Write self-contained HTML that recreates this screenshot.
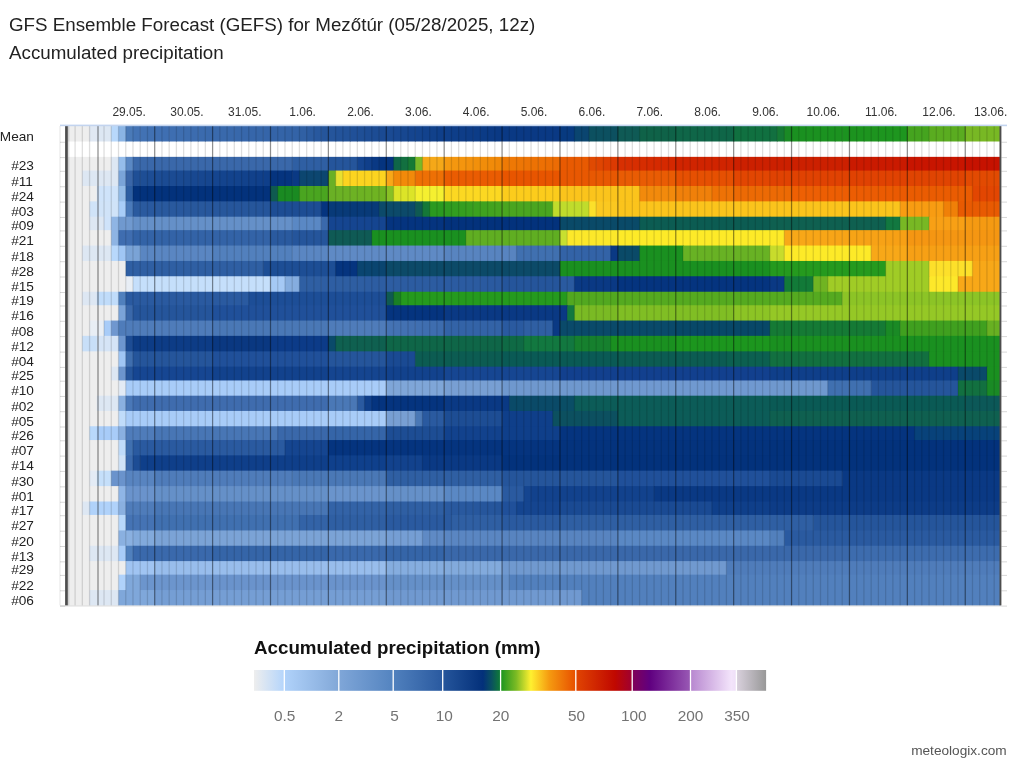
<!DOCTYPE html>
<html lang="en"><head><meta charset="utf-8"><title>GFS Ensemble Forecast (GEFS) for Mezőtúr</title>
<style>html,body{margin:0;padding:0;background:#fff}body{width:1024px;height:764px;position:relative;overflow:hidden;font-family:"Liberation Sans",Arial,sans-serif}text{white-space:pre}</style>
</head><body>
<svg width="1024" height="764" viewBox="0 0 1024 764" style="position:absolute;left:0;top:0">
<g>
<rect x="67.50" y="126.00" width="22.66" height="15.50" fill="#eeeeee"/>
<rect x="89.56" y="126.00" width="7.84" height="15.50" fill="#e0e8f3"/>
<rect x="96.80" y="126.00" width="15.07" height="15.50" fill="#dde7f3"/>
<rect x="111.27" y="126.00" width="7.84" height="15.50" fill="#b8d8fb"/>
<rect x="118.51" y="126.00" width="7.84" height="15.50" fill="#8ab4e4"/>
<rect x="125.75" y="126.00" width="7.84" height="15.50" fill="#4a7ab8"/>
<rect x="132.98" y="126.00" width="7.84" height="15.50" fill="#4373b5"/>
<rect x="140.22" y="126.00" width="7.84" height="15.50" fill="#4272b4"/>
<rect x="147.46" y="126.00" width="7.84" height="15.50" fill="#4171b3"/>
<rect x="154.69" y="126.00" width="7.84" height="15.50" fill="#4070b3"/>
<rect x="161.93" y="126.00" width="7.84" height="15.50" fill="#3f6fb2"/>
<rect x="169.17" y="126.00" width="7.84" height="15.50" fill="#3e6eb1"/>
<rect x="176.41" y="126.00" width="7.84" height="15.50" fill="#3e6eb0"/>
<rect x="183.64" y="126.00" width="7.84" height="15.50" fill="#3d6daf"/>
<rect x="190.88" y="126.00" width="7.84" height="15.50" fill="#3c6caf"/>
<rect x="198.12" y="126.00" width="7.84" height="15.50" fill="#3b6bae"/>
<rect x="205.35" y="126.00" width="15.07" height="15.50" fill="#3a6aad"/>
<rect x="219.83" y="126.00" width="15.07" height="15.50" fill="#3969ac"/>
<rect x="234.30" y="126.00" width="7.84" height="15.50" fill="#3868ab"/>
<rect x="241.54" y="126.00" width="7.84" height="15.50" fill="#3767ab"/>
<rect x="248.78" y="126.00" width="7.84" height="15.50" fill="#3666aa"/>
<rect x="256.01" y="126.00" width="7.84" height="15.50" fill="#3666a9"/>
<rect x="263.25" y="126.00" width="7.84" height="15.50" fill="#3565a9"/>
<rect x="270.49" y="126.00" width="15.07" height="15.50" fill="#3464a8"/>
<rect x="284.96" y="126.00" width="15.07" height="15.50" fill="#3363a7"/>
<rect x="299.43" y="126.00" width="7.84" height="15.50" fill="#3060a4"/>
<rect x="306.67" y="126.00" width="7.84" height="15.50" fill="#2c5ca1"/>
<rect x="313.91" y="126.00" width="7.84" height="15.50" fill="#28589e"/>
<rect x="321.14" y="126.00" width="15.07" height="15.50" fill="#25559b"/>
<rect x="335.62" y="126.00" width="7.84" height="15.50" fill="#23539a"/>
<rect x="342.86" y="126.00" width="7.84" height="15.50" fill="#225299"/>
<rect x="350.09" y="126.00" width="7.84" height="15.50" fill="#205098"/>
<rect x="357.33" y="126.00" width="7.84" height="15.50" fill="#1f4f96"/>
<rect x="364.57" y="126.00" width="7.84" height="15.50" fill="#1d4d95"/>
<rect x="371.80" y="126.00" width="7.84" height="15.50" fill="#1c4c94"/>
<rect x="379.04" y="126.00" width="15.07" height="15.50" fill="#1a4a93"/>
<rect x="393.51" y="126.00" width="7.84" height="15.50" fill="#184892"/>
<rect x="400.75" y="126.00" width="7.84" height="15.50" fill="#174790"/>
<rect x="407.99" y="126.00" width="7.84" height="15.50" fill="#15458f"/>
<rect x="415.23" y="126.00" width="7.84" height="15.50" fill="#14448e"/>
<rect x="422.46" y="126.00" width="7.84" height="15.50" fill="#12428d"/>
<rect x="429.70" y="126.00" width="7.84" height="15.50" fill="#11418b"/>
<rect x="436.94" y="126.00" width="15.07" height="15.50" fill="#0f3f8a"/>
<rect x="451.41" y="126.00" width="7.84" height="15.50" fill="#0e3e89"/>
<rect x="458.65" y="126.00" width="7.84" height="15.50" fill="#0e3d88"/>
<rect x="465.88" y="126.00" width="7.84" height="15.50" fill="#0d3c87"/>
<rect x="473.12" y="126.00" width="7.84" height="15.50" fill="#0c3c87"/>
<rect x="480.36" y="126.00" width="7.84" height="15.50" fill="#0b3b86"/>
<rect x="487.60" y="126.00" width="7.84" height="15.50" fill="#0b3a85"/>
<rect x="494.83" y="126.00" width="65.73" height="15.50" fill="#0a3984"/>
<rect x="559.97" y="126.00" width="15.07" height="15.50" fill="#073a80"/>
<rect x="574.44" y="126.00" width="15.07" height="15.50" fill="#0a4570"/>
<rect x="588.91" y="126.00" width="29.55" height="15.50" fill="#0c5060"/>
<rect x="617.86" y="126.00" width="22.31" height="15.50" fill="#0f5a55"/>
<rect x="639.57" y="126.00" width="36.79" height="15.50" fill="#0f6248"/>
<rect x="675.76" y="126.00" width="58.50" height="15.50" fill="#0f6648"/>
<rect x="733.65" y="126.00" width="36.79" height="15.50" fill="#107040"/>
<rect x="769.84" y="126.00" width="7.84" height="15.50" fill="#127040"/>
<rect x="777.08" y="126.00" width="7.84" height="15.50" fill="#157a35"/>
<rect x="784.31" y="126.00" width="7.84" height="15.50" fill="#1a8a25"/>
<rect x="791.55" y="126.00" width="15.07" height="15.50" fill="#1a9020"/>
<rect x="806.02" y="126.00" width="15.07" height="15.50" fill="#1b9120"/>
<rect x="820.50" y="126.00" width="15.07" height="15.50" fill="#1b9220"/>
<rect x="834.97" y="126.00" width="7.84" height="15.50" fill="#1c9220"/>
<rect x="842.21" y="126.00" width="7.84" height="15.50" fill="#1c9320"/>
<rect x="849.45" y="126.00" width="7.84" height="15.50" fill="#1c931f"/>
<rect x="856.68" y="126.00" width="7.84" height="15.50" fill="#1c941f"/>
<rect x="863.92" y="126.00" width="15.07" height="15.50" fill="#1d941f"/>
<rect x="878.39" y="126.00" width="15.07" height="15.50" fill="#1d951f"/>
<rect x="892.87" y="126.00" width="15.07" height="15.50" fill="#1e961f"/>
<rect x="907.34" y="126.00" width="22.31" height="15.50" fill="#45a41f"/>
<rect x="929.05" y="126.00" width="36.79" height="15.50" fill="#5aac20"/>
<rect x="965.24" y="126.00" width="35.16" height="15.50" fill="#78b824"/>
<rect x="67.50" y="156.85" width="44.37" height="14.70" fill="#eeeeee"/>
<rect x="111.27" y="156.85" width="7.84" height="14.70" fill="#dde7f3"/>
<rect x="118.51" y="156.85" width="7.84" height="14.70" fill="#95bdeb"/>
<rect x="125.75" y="156.85" width="7.84" height="14.70" fill="#5a88c4"/>
<rect x="132.98" y="156.85" width="159.81" height="14.70" fill="#3a68aa"/>
<rect x="292.20" y="156.85" width="36.78" height="14.70" fill="#2f5fa3"/>
<rect x="328.38" y="156.85" width="29.55" height="14.70" fill="#25559b"/>
<rect x="357.33" y="156.85" width="7.84" height="14.70" fill="#154590"/>
<rect x="364.57" y="156.85" width="7.84" height="14.70" fill="#103f8a"/>
<rect x="371.80" y="156.85" width="7.84" height="14.70" fill="#0a3984"/>
<rect x="379.04" y="156.85" width="15.07" height="14.70" fill="#05347f"/>
<rect x="393.51" y="156.85" width="7.84" height="14.70" fill="#0f6648"/>
<rect x="400.75" y="156.85" width="7.84" height="14.70" fill="#127040"/>
<rect x="407.99" y="156.85" width="7.84" height="14.70" fill="#157a35"/>
<rect x="415.23" y="156.85" width="7.84" height="14.70" fill="#7ab828"/>
<rect x="422.46" y="156.85" width="22.31" height="14.70" fill="#f5a818"/>
<rect x="444.17" y="156.85" width="7.84" height="14.70" fill="#f59a10"/>
<rect x="451.41" y="156.85" width="7.84" height="14.70" fill="#f4970f"/>
<rect x="458.65" y="156.85" width="7.84" height="14.70" fill="#f4950e"/>
<rect x="465.88" y="156.85" width="7.84" height="14.70" fill="#f3920d"/>
<rect x="473.12" y="156.85" width="7.84" height="14.70" fill="#f2900b"/>
<rect x="480.36" y="156.85" width="7.84" height="14.70" fill="#f18d0a"/>
<rect x="487.60" y="156.85" width="7.84" height="14.70" fill="#f18b09"/>
<rect x="494.83" y="156.85" width="7.84" height="14.70" fill="#f08808"/>
<rect x="502.07" y="156.85" width="7.84" height="14.70" fill="#ee7a05"/>
<rect x="509.31" y="156.85" width="7.84" height="14.70" fill="#ee7805"/>
<rect x="516.54" y="156.85" width="7.84" height="14.70" fill="#ed7605"/>
<rect x="523.78" y="156.85" width="7.84" height="14.70" fill="#ed7405"/>
<rect x="531.02" y="156.85" width="7.84" height="14.70" fill="#ed7204"/>
<rect x="538.25" y="156.85" width="7.84" height="14.70" fill="#ed7004"/>
<rect x="545.49" y="156.85" width="7.84" height="14.70" fill="#ec6e04"/>
<rect x="552.73" y="156.85" width="7.84" height="14.70" fill="#ec6c04"/>
<rect x="559.97" y="156.85" width="29.55" height="14.70" fill="#e85a02"/>
<rect x="588.91" y="156.85" width="7.84" height="14.70" fill="#e04a02"/>
<rect x="596.15" y="156.85" width="7.84" height="14.70" fill="#df4502"/>
<rect x="603.39" y="156.85" width="7.84" height="14.70" fill="#dd3f02"/>
<rect x="610.62" y="156.85" width="7.84" height="14.70" fill="#dc3a02"/>
<rect x="617.86" y="156.85" width="7.84" height="14.70" fill="#d83002"/>
<rect x="625.10" y="156.85" width="7.84" height="14.70" fill="#d72f02"/>
<rect x="632.34" y="156.85" width="7.84" height="14.70" fill="#d72e01"/>
<rect x="639.57" y="156.85" width="7.84" height="14.70" fill="#d62d01"/>
<rect x="646.81" y="156.85" width="7.84" height="14.70" fill="#d62b01"/>
<rect x="654.05" y="156.85" width="7.84" height="14.70" fill="#d52a01"/>
<rect x="661.28" y="156.85" width="7.84" height="14.70" fill="#d52900"/>
<rect x="668.52" y="156.85" width="7.84" height="14.70" fill="#d42800"/>
<rect x="675.76" y="156.85" width="58.50" height="14.70" fill="#d02400"/>
<rect x="733.65" y="156.85" width="116.39" height="14.70" fill="#cc2000"/>
<rect x="849.45" y="156.85" width="58.50" height="14.70" fill="#ca1a00"/>
<rect x="907.34" y="156.85" width="58.50" height="14.70" fill="#c81500"/>
<rect x="965.24" y="156.85" width="35.16" height="14.70" fill="#c61200"/>
<rect x="67.50" y="170.55" width="15.42" height="16.45" fill="#eeeeee"/>
<rect x="82.32" y="170.55" width="36.78" height="16.45" fill="#dde7f3"/>
<rect x="118.51" y="170.55" width="7.84" height="16.45" fill="#7aa4d8"/>
<rect x="125.75" y="170.55" width="7.84" height="16.45" fill="#3a66a8"/>
<rect x="132.98" y="170.55" width="7.84" height="16.45" fill="#1f4f96"/>
<rect x="140.22" y="170.55" width="7.84" height="16.45" fill="#1e4e95"/>
<rect x="147.46" y="170.55" width="7.84" height="16.45" fill="#1d4d95"/>
<rect x="154.69" y="170.55" width="7.84" height="16.45" fill="#1c4c94"/>
<rect x="161.93" y="170.55" width="15.07" height="16.45" fill="#1b4b93"/>
<rect x="176.41" y="170.55" width="7.84" height="16.45" fill="#1a4a92"/>
<rect x="183.64" y="170.55" width="7.84" height="16.45" fill="#194991"/>
<rect x="190.88" y="170.55" width="7.84" height="16.45" fill="#184891"/>
<rect x="198.12" y="170.55" width="7.84" height="16.45" fill="#174790"/>
<rect x="205.35" y="170.55" width="7.84" height="16.45" fill="#16468f"/>
<rect x="212.59" y="170.55" width="7.84" height="16.45" fill="#15458f"/>
<rect x="219.83" y="170.55" width="7.84" height="16.45" fill="#14448e"/>
<rect x="227.06" y="170.55" width="15.07" height="16.45" fill="#13438d"/>
<rect x="241.54" y="170.55" width="7.84" height="16.45" fill="#12428c"/>
<rect x="248.78" y="170.55" width="7.84" height="16.45" fill="#11418b"/>
<rect x="256.01" y="170.55" width="7.84" height="16.45" fill="#10408b"/>
<rect x="263.25" y="170.55" width="7.84" height="16.45" fill="#0f3f8a"/>
<rect x="270.49" y="170.55" width="22.31" height="16.45" fill="#05347f"/>
<rect x="292.20" y="170.55" width="7.84" height="16.45" fill="#0a3984"/>
<rect x="299.43" y="170.55" width="29.55" height="16.45" fill="#0c4670"/>
<rect x="328.38" y="170.55" width="7.84" height="16.45" fill="#6ab025"/>
<rect x="335.62" y="170.55" width="7.84" height="16.45" fill="#e8e030"/>
<rect x="342.86" y="170.55" width="44.02" height="16.45" fill="#fcd420"/>
<rect x="386.28" y="170.55" width="7.84" height="16.45" fill="#f8a818"/>
<rect x="393.51" y="170.55" width="22.31" height="16.45" fill="#f28a0a"/>
<rect x="415.23" y="170.55" width="29.55" height="16.45" fill="#ee7005"/>
<rect x="444.17" y="170.55" width="58.50" height="16.45" fill="#ea5c02"/>
<rect x="502.07" y="170.55" width="58.50" height="16.45" fill="#e85500"/>
<rect x="559.97" y="170.55" width="58.50" height="16.45" fill="#e85802"/>
<rect x="617.86" y="170.55" width="58.50" height="16.45" fill="#e95c04"/>
<rect x="675.76" y="170.55" width="58.50" height="16.45" fill="#e65002"/>
<rect x="733.65" y="170.55" width="36.79" height="16.45" fill="#e24602"/>
<rect x="769.84" y="170.55" width="138.10" height="16.45" fill="#e04202"/>
<rect x="907.34" y="170.55" width="58.50" height="16.45" fill="#e04402"/>
<rect x="965.24" y="170.55" width="35.16" height="16.45" fill="#e24a02"/>
<rect x="67.50" y="186.00" width="29.90" height="16.35" fill="#eeeeee"/>
<rect x="96.80" y="186.00" width="22.31" height="16.35" fill="#cfe3fa"/>
<rect x="118.51" y="186.00" width="7.84" height="16.35" fill="#94bce8"/>
<rect x="125.75" y="186.00" width="7.84" height="16.35" fill="#2d5ea2"/>
<rect x="132.98" y="186.00" width="138.10" height="16.35" fill="#03327c"/>
<rect x="270.49" y="186.00" width="7.84" height="16.35" fill="#0f5a50"/>
<rect x="277.72" y="186.00" width="22.31" height="16.35" fill="#1a8a22"/>
<rect x="299.43" y="186.00" width="29.55" height="16.35" fill="#4aa520"/>
<rect x="328.38" y="186.00" width="7.84" height="16.35" fill="#6ab025"/>
<rect x="335.62" y="186.00" width="7.84" height="16.35" fill="#6bb125"/>
<rect x="342.86" y="186.00" width="7.84" height="16.35" fill="#6cb124"/>
<rect x="350.09" y="186.00" width="7.84" height="16.35" fill="#6db224"/>
<rect x="357.33" y="186.00" width="7.84" height="16.35" fill="#6db223"/>
<rect x="364.57" y="186.00" width="7.84" height="16.35" fill="#6eb323"/>
<rect x="371.80" y="186.00" width="7.84" height="16.35" fill="#6fb322"/>
<rect x="379.04" y="186.00" width="7.84" height="16.35" fill="#70b422"/>
<rect x="386.28" y="186.00" width="7.84" height="16.35" fill="#88c025"/>
<rect x="393.51" y="186.00" width="22.31" height="16.35" fill="#dce428"/>
<rect x="415.23" y="186.00" width="29.55" height="16.35" fill="#f5f030"/>
<rect x="444.17" y="186.00" width="58.50" height="16.35" fill="#fcd822"/>
<rect x="502.07" y="186.00" width="58.50" height="16.35" fill="#fccc1c"/>
<rect x="559.97" y="186.00" width="80.21" height="16.35" fill="#fbc41c"/>
<rect x="639.57" y="186.00" width="36.79" height="16.35" fill="#f28a0c"/>
<rect x="675.76" y="186.00" width="36.78" height="16.35" fill="#f0800a"/>
<rect x="711.94" y="186.00" width="22.31" height="16.35" fill="#ee7206"/>
<rect x="733.65" y="186.00" width="58.50" height="16.35" fill="#ec6a05"/>
<rect x="791.55" y="186.00" width="15.07" height="16.35" fill="#ee6004"/>
<rect x="806.02" y="186.00" width="15.07" height="16.35" fill="#ed5f04"/>
<rect x="820.50" y="186.00" width="15.07" height="16.35" fill="#ed5e03"/>
<rect x="834.97" y="186.00" width="7.84" height="16.35" fill="#ec5e03"/>
<rect x="842.21" y="186.00" width="15.07" height="16.35" fill="#ec5d03"/>
<rect x="856.68" y="186.00" width="7.84" height="16.35" fill="#ec5c03"/>
<rect x="863.92" y="186.00" width="15.07" height="16.35" fill="#eb5c03"/>
<rect x="878.39" y="186.00" width="15.07" height="16.35" fill="#eb5b02"/>
<rect x="892.87" y="186.00" width="15.07" height="16.35" fill="#ea5a02"/>
<rect x="907.34" y="186.00" width="65.73" height="16.35" fill="#ea5c02"/>
<rect x="972.48" y="186.00" width="27.92" height="16.35" fill="#e24602"/>
<rect x="67.50" y="201.35" width="22.66" height="16.35" fill="#eeeeee"/>
<rect x="89.56" y="201.35" width="29.55" height="16.35" fill="#d0e3f8"/>
<rect x="118.51" y="201.35" width="7.84" height="16.35" fill="#a8cdf8"/>
<rect x="125.75" y="201.35" width="7.84" height="16.35" fill="#4a7aba"/>
<rect x="132.98" y="201.35" width="15.07" height="16.35" fill="#2a5a9f"/>
<rect x="147.46" y="201.35" width="7.84" height="16.35" fill="#29599f"/>
<rect x="154.69" y="201.35" width="22.31" height="16.35" fill="#29599e"/>
<rect x="176.41" y="201.35" width="7.84" height="16.35" fill="#28589e"/>
<rect x="183.64" y="201.35" width="22.31" height="16.35" fill="#28589d"/>
<rect x="205.35" y="201.35" width="15.07" height="16.35" fill="#27579d"/>
<rect x="219.83" y="201.35" width="7.84" height="16.35" fill="#27579c"/>
<rect x="227.06" y="201.35" width="22.31" height="16.35" fill="#26569c"/>
<rect x="248.78" y="201.35" width="7.84" height="16.35" fill="#26569b"/>
<rect x="256.01" y="201.35" width="15.07" height="16.35" fill="#25559b"/>
<rect x="270.49" y="201.35" width="51.26" height="16.35" fill="#1d4d94"/>
<rect x="321.14" y="201.35" width="7.84" height="16.35" fill="#05347f"/>
<rect x="328.38" y="201.35" width="51.26" height="16.35" fill="#083a78"/>
<rect x="379.04" y="201.35" width="36.78" height="16.35" fill="#0c4a6a"/>
<rect x="415.23" y="201.35" width="7.84" height="16.35" fill="#0f5a52"/>
<rect x="422.46" y="201.35" width="7.84" height="16.35" fill="#157838"/>
<rect x="429.70" y="201.35" width="15.07" height="16.35" fill="#2a9a20"/>
<rect x="444.17" y="201.35" width="7.84" height="16.35" fill="#2f9c20"/>
<rect x="451.41" y="201.35" width="7.84" height="16.35" fill="#329d20"/>
<rect x="458.65" y="201.35" width="7.84" height="16.35" fill="#359e20"/>
<rect x="465.88" y="201.35" width="7.84" height="16.35" fill="#389f20"/>
<rect x="473.12" y="201.35" width="7.84" height="16.35" fill="#3ca11f"/>
<rect x="480.36" y="201.35" width="7.84" height="16.35" fill="#3fa21f"/>
<rect x="487.60" y="201.35" width="7.84" height="16.35" fill="#42a31f"/>
<rect x="494.83" y="201.35" width="7.84" height="16.35" fill="#45a41f"/>
<rect x="502.07" y="201.35" width="51.26" height="16.35" fill="#4aa520"/>
<rect x="552.73" y="201.35" width="36.78" height="16.35" fill="#c0dc2c"/>
<rect x="588.91" y="201.35" width="7.84" height="16.35" fill="#fce02a"/>
<rect x="596.15" y="201.35" width="22.31" height="16.35" fill="#fbc820"/>
<rect x="617.86" y="201.35" width="282.84" height="16.35" fill="#fbc41c"/>
<rect x="900.11" y="201.35" width="44.02" height="16.35" fill="#f89c12"/>
<rect x="943.53" y="201.35" width="15.07" height="16.35" fill="#f08008"/>
<rect x="958.00" y="201.35" width="42.40" height="16.35" fill="#e85a02"/>
<rect x="67.50" y="216.70" width="22.66" height="14.45" fill="#eeeeee"/>
<rect x="89.56" y="216.70" width="15.07" height="14.45" fill="#dde7f3"/>
<rect x="104.03" y="216.70" width="7.84" height="14.45" fill="#cfe3fa"/>
<rect x="111.27" y="216.70" width="7.84" height="14.45" fill="#8fb5e4"/>
<rect x="118.51" y="216.70" width="15.07" height="14.45" fill="#7099cf"/>
<rect x="132.98" y="216.70" width="159.81" height="14.45" fill="#6590c8"/>
<rect x="292.20" y="216.70" width="29.55" height="14.45" fill="#5a88c4"/>
<rect x="321.14" y="216.70" width="7.84" height="14.45" fill="#3a69ac"/>
<rect x="328.38" y="216.70" width="58.50" height="14.45" fill="#154590"/>
<rect x="386.28" y="216.70" width="58.50" height="14.45" fill="#05347f"/>
<rect x="444.17" y="216.70" width="116.39" height="14.45" fill="#03327c"/>
<rect x="559.97" y="216.70" width="80.21" height="14.45" fill="#0a4a68"/>
<rect x="639.57" y="216.70" width="130.87" height="14.45" fill="#0c5c52"/>
<rect x="769.84" y="216.70" width="116.39" height="14.45" fill="#0f6050"/>
<rect x="885.63" y="216.70" width="15.07" height="14.45" fill="#127840"/>
<rect x="900.11" y="216.70" width="29.55" height="14.45" fill="#78b824"/>
<rect x="929.05" y="216.70" width="36.79" height="14.45" fill="#f8a015"/>
<rect x="965.24" y="216.70" width="35.16" height="14.45" fill="#f59a12"/>
<rect x="67.50" y="230.15" width="44.37" height="16.40" fill="#eeeeee"/>
<rect x="111.27" y="230.15" width="7.84" height="16.40" fill="#8eb4e3"/>
<rect x="118.51" y="230.15" width="15.07" height="16.40" fill="#3f6db0"/>
<rect x="132.98" y="230.15" width="138.10" height="16.40" fill="#3363a7"/>
<rect x="270.49" y="230.15" width="22.31" height="16.40" fill="#2a5a9f"/>
<rect x="292.20" y="230.15" width="36.78" height="16.40" fill="#25559b"/>
<rect x="328.38" y="230.15" width="44.02" height="16.40" fill="#0f5a55"/>
<rect x="371.80" y="230.15" width="94.68" height="16.40" fill="#1a9020"/>
<rect x="465.88" y="230.15" width="94.68" height="16.40" fill="#60ae22"/>
<rect x="559.97" y="230.15" width="7.84" height="16.40" fill="#c8e030"/>
<rect x="567.20" y="230.15" width="51.26" height="16.40" fill="#fce82a"/>
<rect x="617.86" y="230.15" width="167.05" height="16.40" fill="#fdea28"/>
<rect x="784.31" y="230.15" width="15.07" height="16.40" fill="#f8a818"/>
<rect x="798.79" y="230.15" width="7.84" height="16.40" fill="#f8a718"/>
<rect x="806.02" y="230.15" width="22.31" height="16.40" fill="#f8a617"/>
<rect x="827.74" y="230.15" width="7.84" height="16.40" fill="#f8a517"/>
<rect x="834.97" y="230.15" width="7.84" height="16.40" fill="#f8a417"/>
<rect x="842.21" y="230.15" width="7.84" height="16.40" fill="#f8a416"/>
<rect x="849.45" y="230.15" width="7.84" height="16.40" fill="#f7a416"/>
<rect x="856.68" y="230.15" width="7.84" height="16.40" fill="#f7a316"/>
<rect x="863.92" y="230.15" width="22.31" height="16.40" fill="#f7a216"/>
<rect x="885.63" y="230.15" width="7.84" height="16.40" fill="#f7a115"/>
<rect x="892.87" y="230.15" width="15.07" height="16.40" fill="#f7a015"/>
<rect x="907.34" y="230.15" width="93.06" height="16.40" fill="#f59612"/>
<rect x="67.50" y="245.55" width="15.42" height="16.40" fill="#eeeeee"/>
<rect x="82.32" y="245.55" width="29.55" height="16.40" fill="#dde7f3"/>
<rect x="111.27" y="245.55" width="7.84" height="16.40" fill="#b8d8fb"/>
<rect x="118.51" y="245.55" width="7.84" height="16.40" fill="#a0c6f4"/>
<rect x="125.75" y="245.55" width="15.07" height="16.40" fill="#7aa3d6"/>
<rect x="140.22" y="245.55" width="72.97" height="16.40" fill="#5a86c2"/>
<rect x="212.59" y="245.55" width="80.21" height="16.40" fill="#5280bd"/>
<rect x="292.20" y="245.55" width="36.78" height="16.40" fill="#5a86c2"/>
<rect x="328.38" y="245.55" width="116.39" height="16.40" fill="#5f8ac5"/>
<rect x="444.17" y="245.55" width="72.97" height="16.40" fill="#5884c0"/>
<rect x="516.54" y="245.55" width="44.02" height="16.40" fill="#4070b0"/>
<rect x="559.97" y="245.55" width="51.26" height="16.40" fill="#3363a7"/>
<rect x="610.62" y="245.55" width="7.84" height="16.40" fill="#0a3984"/>
<rect x="617.86" y="245.55" width="22.31" height="16.40" fill="#0a4a68"/>
<rect x="639.57" y="245.55" width="44.02" height="16.40" fill="#1a9020"/>
<rect x="683.00" y="245.55" width="87.44" height="16.40" fill="#68b224"/>
<rect x="769.84" y="245.55" width="15.07" height="16.40" fill="#c8dc2c"/>
<rect x="784.31" y="245.55" width="87.44" height="16.40" fill="#fdea28"/>
<rect x="871.16" y="245.55" width="36.78" height="16.40" fill="#f8a818"/>
<rect x="907.34" y="245.55" width="93.06" height="16.40" fill="#f7a015"/>
<rect x="67.50" y="260.95" width="58.85" height="16.30" fill="#eeeeee"/>
<rect x="125.75" y="260.95" width="138.10" height="16.30" fill="#2f5fa3"/>
<rect x="263.25" y="260.95" width="72.97" height="16.30" fill="#1d4e95"/>
<rect x="335.62" y="260.95" width="22.31" height="16.30" fill="#05347f"/>
<rect x="357.33" y="260.95" width="29.55" height="16.30" fill="#0a4570"/>
<rect x="386.28" y="260.95" width="174.29" height="16.30" fill="#0c4a68"/>
<rect x="559.97" y="260.95" width="210.47" height="16.30" fill="#1a9020"/>
<rect x="769.84" y="260.95" width="116.39" height="16.30" fill="#259a1e"/>
<rect x="885.63" y="260.95" width="44.02" height="16.30" fill="#a0cc26"/>
<rect x="929.05" y="260.95" width="44.02" height="16.30" fill="#fde02a"/>
<rect x="972.48" y="260.95" width="27.92" height="16.30" fill="#f8a818"/>
<rect x="67.50" y="276.25" width="58.85" height="16.50" fill="#eeeeee"/>
<rect x="125.75" y="276.25" width="7.84" height="16.50" fill="#e8eef5"/>
<rect x="132.98" y="276.25" width="138.10" height="16.50" fill="#c5dffb"/>
<rect x="270.49" y="276.25" width="15.07" height="16.50" fill="#a5c9f5"/>
<rect x="284.96" y="276.25" width="15.07" height="16.50" fill="#85addf"/>
<rect x="299.43" y="276.25" width="22.31" height="16.50" fill="#2f5fa3"/>
<rect x="321.14" y="276.25" width="15.07" height="16.50" fill="#2e5ea3"/>
<rect x="335.62" y="276.25" width="29.55" height="16.50" fill="#2e5ea2"/>
<rect x="364.57" y="276.25" width="36.78" height="16.50" fill="#2d5da2"/>
<rect x="400.75" y="276.25" width="36.79" height="16.50" fill="#2c5ca1"/>
<rect x="436.94" y="276.25" width="29.55" height="16.50" fill="#2b5ba1"/>
<rect x="465.88" y="276.25" width="15.07" height="16.50" fill="#2b5ba0"/>
<rect x="480.36" y="276.25" width="22.31" height="16.50" fill="#2a5aa0"/>
<rect x="502.07" y="276.25" width="58.50" height="16.50" fill="#25559b"/>
<rect x="559.97" y="276.25" width="15.07" height="16.50" fill="#2a5aa0"/>
<rect x="574.44" y="276.25" width="44.02" height="16.50" fill="#0a3984"/>
<rect x="617.86" y="276.25" width="152.58" height="16.50" fill="#05347f"/>
<rect x="769.84" y="276.25" width="15.07" height="16.50" fill="#0a3984"/>
<rect x="784.31" y="276.25" width="29.55" height="16.50" fill="#127a38"/>
<rect x="813.26" y="276.25" width="15.07" height="16.50" fill="#70b422"/>
<rect x="827.74" y="276.25" width="101.92" height="16.50" fill="#a0cc26"/>
<rect x="929.05" y="276.25" width="29.55" height="16.50" fill="#fde82a"/>
<rect x="958.00" y="276.25" width="42.40" height="16.50" fill="#f8a818"/>
<rect x="67.50" y="291.75" width="15.42" height="14.50" fill="#eeeeee"/>
<rect x="82.32" y="291.75" width="15.07" height="14.50" fill="#dde7f3"/>
<rect x="96.80" y="291.75" width="22.31" height="14.50" fill="#c0dcfa"/>
<rect x="118.51" y="291.75" width="7.84" height="14.50" fill="#5080bd"/>
<rect x="125.75" y="291.75" width="123.63" height="14.50" fill="#2a5aa0"/>
<rect x="248.78" y="291.75" width="138.10" height="14.50" fill="#1d4e97"/>
<rect x="386.28" y="291.75" width="7.84" height="14.50" fill="#0f5a52"/>
<rect x="393.51" y="291.75" width="7.84" height="14.50" fill="#1a8025"/>
<rect x="400.75" y="291.75" width="167.05" height="14.50" fill="#259a1e"/>
<rect x="567.20" y="291.75" width="51.26" height="14.50" fill="#52a820"/>
<rect x="617.86" y="291.75" width="224.95" height="14.50" fill="#55aa20"/>
<rect x="842.21" y="291.75" width="158.19" height="14.50" fill="#8cc426"/>
<rect x="67.50" y="305.25" width="51.61" height="16.30" fill="#eeeeee"/>
<rect x="118.51" y="305.25" width="7.84" height="16.30" fill="#7aa3d8"/>
<rect x="125.75" y="305.25" width="7.84" height="16.30" fill="#3a68aa"/>
<rect x="132.98" y="305.25" width="80.21" height="16.30" fill="#25559b"/>
<rect x="212.59" y="305.25" width="174.29" height="16.30" fill="#20509a"/>
<rect x="386.28" y="305.25" width="58.50" height="16.30" fill="#05347f"/>
<rect x="444.17" y="305.25" width="123.63" height="16.30" fill="#0a3984"/>
<rect x="567.20" y="305.25" width="7.84" height="16.30" fill="#127840"/>
<rect x="574.44" y="305.25" width="44.02" height="16.30" fill="#7aba24"/>
<rect x="617.86" y="305.25" width="116.39" height="16.30" fill="#80be24"/>
<rect x="733.65" y="305.25" width="36.79" height="16.30" fill="#8cc425"/>
<rect x="769.84" y="305.25" width="230.56" height="16.30" fill="#95c826"/>
<rect x="67.50" y="320.55" width="22.66" height="16.30" fill="#eeeeee"/>
<rect x="89.56" y="320.55" width="15.07" height="16.30" fill="#e8eef5"/>
<rect x="104.03" y="320.55" width="7.84" height="16.30" fill="#a8ccf8"/>
<rect x="111.27" y="320.55" width="7.84" height="16.30" fill="#6f97cf"/>
<rect x="118.51" y="320.55" width="94.68" height="16.30" fill="#4f7cba"/>
<rect x="212.59" y="320.55" width="116.39" height="16.30" fill="#4a78b6"/>
<rect x="328.38" y="320.55" width="58.50" height="16.30" fill="#4f7cba"/>
<rect x="386.28" y="320.55" width="7.84" height="16.30" fill="#4573b4"/>
<rect x="393.51" y="320.55" width="7.84" height="16.30" fill="#4472b3"/>
<rect x="400.75" y="320.55" width="7.84" height="16.30" fill="#4371b2"/>
<rect x="407.99" y="320.55" width="7.84" height="16.30" fill="#4270b1"/>
<rect x="415.23" y="320.55" width="7.84" height="16.30" fill="#406fb1"/>
<rect x="422.46" y="320.55" width="7.84" height="16.30" fill="#3f6eb0"/>
<rect x="429.70" y="320.55" width="7.84" height="16.30" fill="#3e6daf"/>
<rect x="436.94" y="320.55" width="7.84" height="16.30" fill="#3d6cae"/>
<rect x="444.17" y="320.55" width="58.50" height="16.30" fill="#3363a7"/>
<rect x="502.07" y="320.55" width="22.31" height="16.30" fill="#2a5aa0"/>
<rect x="523.78" y="320.55" width="29.55" height="16.30" fill="#2f5fa3"/>
<rect x="552.73" y="320.55" width="7.84" height="16.30" fill="#0a3984"/>
<rect x="559.97" y="320.55" width="116.39" height="16.30" fill="#0a4a6a"/>
<rect x="675.76" y="320.55" width="94.68" height="16.30" fill="#084868"/>
<rect x="769.84" y="320.55" width="116.39" height="16.30" fill="#157a35"/>
<rect x="885.63" y="320.55" width="15.07" height="16.30" fill="#1a8a25"/>
<rect x="900.11" y="320.55" width="87.44" height="16.30" fill="#40a01f"/>
<rect x="986.95" y="320.55" width="13.45" height="16.30" fill="#68b022"/>
<rect x="67.50" y="335.85" width="15.42" height="16.50" fill="#eeeeee"/>
<rect x="82.32" y="335.85" width="15.07" height="16.50" fill="#c8dff8"/>
<rect x="96.80" y="335.85" width="22.31" height="16.50" fill="#d5e4f6"/>
<rect x="118.51" y="335.85" width="7.84" height="16.50" fill="#6d96cf"/>
<rect x="125.75" y="335.85" width="7.84" height="16.50" fill="#1d4c94"/>
<rect x="132.98" y="335.85" width="80.21" height="16.50" fill="#0d3c86"/>
<rect x="212.59" y="335.85" width="58.50" height="16.50" fill="#0a3881"/>
<rect x="270.49" y="335.85" width="58.50" height="16.50" fill="#0c3b88"/>
<rect x="328.38" y="335.85" width="7.84" height="16.50" fill="#0a4a6a"/>
<rect x="335.62" y="335.85" width="51.26" height="16.50" fill="#0f6050"/>
<rect x="386.28" y="335.85" width="116.39" height="16.50" fill="#0f6648"/>
<rect x="502.07" y="335.85" width="22.31" height="16.50" fill="#0f6a45"/>
<rect x="523.78" y="335.85" width="51.26" height="16.50" fill="#127840"/>
<rect x="574.44" y="335.85" width="36.78" height="16.50" fill="#16802e"/>
<rect x="610.62" y="335.85" width="65.73" height="16.50" fill="#1a9020"/>
<rect x="675.76" y="335.85" width="94.68" height="16.50" fill="#1c961e"/>
<rect x="769.84" y="335.85" width="230.56" height="16.50" fill="#1a9020"/>
<rect x="67.50" y="351.35" width="51.61" height="16.30" fill="#eeeeee"/>
<rect x="118.51" y="351.35" width="7.84" height="16.30" fill="#a0c6f4"/>
<rect x="125.75" y="351.35" width="7.84" height="16.30" fill="#3f6eae"/>
<rect x="132.98" y="351.35" width="80.21" height="16.30" fill="#25559b"/>
<rect x="212.59" y="351.35" width="116.39" height="16.30" fill="#20509a"/>
<rect x="328.38" y="351.35" width="58.50" height="16.30" fill="#25559b"/>
<rect x="386.28" y="351.35" width="29.55" height="16.30" fill="#1a4a93"/>
<rect x="415.23" y="351.35" width="87.44" height="16.30" fill="#0c5c52"/>
<rect x="502.07" y="351.35" width="116.39" height="16.30" fill="#0a5a55"/>
<rect x="617.86" y="351.35" width="109.15" height="16.30" fill="#0c5c52"/>
<rect x="726.42" y="351.35" width="44.02" height="16.30" fill="#0c6050"/>
<rect x="769.84" y="351.35" width="159.81" height="16.30" fill="#127040"/>
<rect x="929.05" y="351.35" width="71.35" height="16.30" fill="#1a9020"/>
<rect x="67.50" y="366.65" width="44.37" height="14.80" fill="#eeeeee"/>
<rect x="111.27" y="366.65" width="7.84" height="14.80" fill="#dde7f3"/>
<rect x="118.51" y="366.65" width="7.84" height="14.80" fill="#6c95cd"/>
<rect x="125.75" y="366.65" width="7.84" height="14.80" fill="#25559b"/>
<rect x="132.98" y="366.65" width="80.21" height="14.80" fill="#164692"/>
<rect x="212.59" y="366.65" width="116.39" height="14.80" fill="#12428d"/>
<rect x="328.38" y="366.65" width="58.50" height="14.80" fill="#154590"/>
<rect x="386.28" y="366.65" width="58.50" height="14.80" fill="#12428d"/>
<rect x="444.17" y="366.65" width="116.39" height="14.80" fill="#164692"/>
<rect x="559.97" y="366.65" width="210.47" height="14.80" fill="#12408e"/>
<rect x="769.84" y="366.65" width="188.76" height="14.80" fill="#0f3f8a"/>
<rect x="958.00" y="366.65" width="29.55" height="14.80" fill="#0a4a6a"/>
<rect x="986.95" y="366.65" width="13.45" height="14.80" fill="#1a9020"/>
<rect x="67.50" y="380.45" width="51.61" height="16.25" fill="#eeeeee"/>
<rect x="118.51" y="380.45" width="7.84" height="16.25" fill="#e3ebf5"/>
<rect x="125.75" y="380.45" width="261.13" height="16.25" fill="#a8ccf8"/>
<rect x="386.28" y="380.45" width="58.50" height="16.25" fill="#7fa6d8"/>
<rect x="444.17" y="380.45" width="58.50" height="16.25" fill="#789fd3"/>
<rect x="502.07" y="380.45" width="116.39" height="16.25" fill="#6f98ce"/>
<rect x="617.86" y="380.45" width="152.58" height="16.25" fill="#7099d0"/>
<rect x="769.84" y="380.45" width="58.50" height="16.25" fill="#6f98ce"/>
<rect x="827.74" y="380.45" width="44.02" height="16.25" fill="#4070b0"/>
<rect x="871.16" y="380.45" width="87.44" height="16.25" fill="#25559b"/>
<rect x="958.00" y="380.45" width="29.55" height="16.25" fill="#127040"/>
<rect x="986.95" y="380.45" width="13.45" height="16.25" fill="#1a8a25"/>
<rect x="67.50" y="395.70" width="29.90" height="16.25" fill="#eeeeee"/>
<rect x="96.80" y="395.70" width="22.31" height="16.25" fill="#dde7f3"/>
<rect x="118.51" y="395.70" width="7.84" height="16.25" fill="#8ab0e0"/>
<rect x="125.75" y="395.70" width="7.84" height="16.25" fill="#4a78b8"/>
<rect x="132.98" y="395.70" width="196.00" height="16.25" fill="#3f6cae"/>
<rect x="328.38" y="395.70" width="29.55" height="16.25" fill="#4a78b6"/>
<rect x="357.33" y="395.70" width="7.84" height="16.25" fill="#2a5aa0"/>
<rect x="364.57" y="395.70" width="7.84" height="16.25" fill="#0f3f8a"/>
<rect x="371.80" y="395.70" width="72.97" height="16.25" fill="#05347f"/>
<rect x="444.17" y="395.70" width="65.73" height="16.25" fill="#0a3984"/>
<rect x="509.31" y="395.70" width="51.26" height="16.25" fill="#0a4a68"/>
<rect x="559.97" y="395.70" width="15.07" height="16.25" fill="#0a4e66"/>
<rect x="574.44" y="395.70" width="196.00" height="16.25" fill="#0c5c58"/>
<rect x="769.84" y="395.70" width="196.00" height="16.25" fill="#0a5a55"/>
<rect x="965.24" y="395.70" width="35.16" height="16.25" fill="#0c5858"/>
<rect x="67.50" y="410.95" width="51.61" height="16.30" fill="#eeeeee"/>
<rect x="118.51" y="410.95" width="7.84" height="16.30" fill="#c0dcfa"/>
<rect x="125.75" y="410.95" width="261.13" height="16.30" fill="#a8ccf8"/>
<rect x="386.28" y="410.95" width="29.55" height="16.30" fill="#789fd3"/>
<rect x="415.23" y="410.95" width="7.84" height="16.30" fill="#4a78b6"/>
<rect x="422.46" y="410.95" width="22.31" height="16.30" fill="#2a5aa0"/>
<rect x="444.17" y="410.95" width="58.50" height="16.30" fill="#1d4d94"/>
<rect x="502.07" y="410.95" width="51.26" height="16.30" fill="#0f3f8a"/>
<rect x="552.73" y="410.95" width="65.73" height="16.30" fill="#0c5060"/>
<rect x="617.86" y="410.95" width="152.58" height="16.30" fill="#0c5c58"/>
<rect x="769.84" y="410.95" width="230.56" height="16.30" fill="#0f6050"/>
<rect x="67.50" y="426.25" width="22.66" height="14.80" fill="#eeeeee"/>
<rect x="89.56" y="426.25" width="7.84" height="14.80" fill="#b8d8fb"/>
<rect x="96.80" y="426.25" width="22.31" height="14.80" fill="#a8ccf8"/>
<rect x="118.51" y="426.25" width="7.84" height="14.80" fill="#8ab0e0"/>
<rect x="125.75" y="426.25" width="29.55" height="14.80" fill="#4f7cba"/>
<rect x="154.69" y="426.25" width="123.63" height="14.80" fill="#4876b5"/>
<rect x="277.72" y="426.25" width="51.26" height="14.80" fill="#3a68aa"/>
<rect x="328.38" y="426.25" width="58.50" height="14.80" fill="#3565a8"/>
<rect x="386.28" y="426.25" width="58.50" height="14.80" fill="#1d4d94"/>
<rect x="444.17" y="426.25" width="58.50" height="14.80" fill="#12428d"/>
<rect x="502.07" y="426.25" width="58.50" height="14.80" fill="#0f3f8a"/>
<rect x="559.97" y="426.25" width="355.21" height="14.80" fill="#05347f"/>
<rect x="914.58" y="426.25" width="85.82" height="14.80" fill="#08427a"/>
<rect x="67.50" y="440.05" width="51.61" height="16.30" fill="#eeeeee"/>
<rect x="118.51" y="440.05" width="7.84" height="16.30" fill="#c0dcfa"/>
<rect x="125.75" y="440.05" width="7.84" height="16.30" fill="#4070b0"/>
<rect x="132.98" y="440.05" width="152.58" height="16.30" fill="#2a5aa0"/>
<rect x="284.96" y="440.05" width="44.02" height="16.30" fill="#154590"/>
<rect x="328.38" y="440.05" width="232.18" height="16.30" fill="#05347f"/>
<rect x="559.97" y="440.05" width="210.47" height="16.30" fill="#04337d"/>
<rect x="769.84" y="440.05" width="230.56" height="16.30" fill="#03327c"/>
<rect x="67.50" y="455.35" width="51.61" height="16.30" fill="#eeeeee"/>
<rect x="118.51" y="455.35" width="7.84" height="16.30" fill="#d0e3f8"/>
<rect x="125.75" y="455.35" width="7.84" height="16.30" fill="#3a69ac"/>
<rect x="132.98" y="455.35" width="7.84" height="16.30" fill="#1d4d95"/>
<rect x="140.22" y="455.35" width="188.76" height="16.30" fill="#0f3f8a"/>
<rect x="328.38" y="455.35" width="58.50" height="16.30" fill="#0f408c"/>
<rect x="386.28" y="455.35" width="36.78" height="16.30" fill="#12428d"/>
<rect x="422.46" y="455.35" width="80.21" height="16.30" fill="#0a3984"/>
<rect x="502.07" y="455.35" width="498.33" height="16.30" fill="#03327c"/>
<rect x="67.50" y="470.65" width="22.66" height="16.45" fill="#eeeeee"/>
<rect x="89.56" y="470.65" width="7.84" height="16.45" fill="#e3ebf5"/>
<rect x="96.80" y="470.65" width="15.07" height="16.45" fill="#c5dffa"/>
<rect x="111.27" y="470.65" width="15.07" height="16.45" fill="#6a93cc"/>
<rect x="125.75" y="470.65" width="29.55" height="16.45" fill="#5884c0"/>
<rect x="154.69" y="470.65" width="138.10" height="16.45" fill="#4f7cba"/>
<rect x="292.20" y="470.65" width="94.68" height="16.45" fill="#4a78b6"/>
<rect x="386.28" y="470.65" width="116.39" height="16.45" fill="#2f5fa3"/>
<rect x="502.07" y="470.65" width="116.39" height="16.45" fill="#25559b"/>
<rect x="617.86" y="470.65" width="152.58" height="16.45" fill="#20509a"/>
<rect x="769.84" y="470.65" width="72.97" height="16.45" fill="#1a4a93"/>
<rect x="842.21" y="470.65" width="158.19" height="16.45" fill="#0a3984"/>
<rect x="67.50" y="486.10" width="51.61" height="16.40" fill="#eeeeee"/>
<rect x="118.51" y="486.10" width="7.84" height="16.40" fill="#8fb5e6"/>
<rect x="125.75" y="486.10" width="29.55" height="16.40" fill="#6a93cc"/>
<rect x="154.69" y="486.10" width="174.29" height="16.40" fill="#6590c8"/>
<rect x="328.38" y="486.10" width="58.50" height="16.40" fill="#6a94cc"/>
<rect x="386.28" y="486.10" width="58.50" height="16.40" fill="#6590c8"/>
<rect x="444.17" y="486.10" width="58.50" height="16.40" fill="#5a88c4"/>
<rect x="502.07" y="486.10" width="22.31" height="16.40" fill="#2a5aa0"/>
<rect x="523.78" y="486.10" width="7.84" height="16.40" fill="#154590"/>
<rect x="531.02" y="486.10" width="123.63" height="16.40" fill="#12428d"/>
<rect x="654.05" y="486.10" width="346.35" height="16.40" fill="#0a3984"/>
<rect x="67.50" y="501.50" width="15.42" height="14.45" fill="#eeeeee"/>
<rect x="82.32" y="501.50" width="7.84" height="14.45" fill="#dde7f3"/>
<rect x="89.56" y="501.50" width="29.55" height="14.45" fill="#b0d2fa"/>
<rect x="118.51" y="501.50" width="7.84" height="14.45" fill="#8ab0e0"/>
<rect x="125.75" y="501.50" width="29.55" height="14.45" fill="#4f7cba"/>
<rect x="154.69" y="501.50" width="174.29" height="14.45" fill="#4876b5"/>
<rect x="328.38" y="501.50" width="58.50" height="14.45" fill="#3363a7"/>
<rect x="386.28" y="501.50" width="58.50" height="14.45" fill="#2f5fa3"/>
<rect x="444.17" y="501.50" width="7.84" height="14.45" fill="#2a5aa0"/>
<rect x="451.41" y="501.50" width="15.07" height="14.45" fill="#29599f"/>
<rect x="465.88" y="501.50" width="7.84" height="14.45" fill="#28589e"/>
<rect x="473.12" y="501.50" width="7.84" height="14.45" fill="#27579d"/>
<rect x="480.36" y="501.50" width="15.07" height="14.45" fill="#26569c"/>
<rect x="494.83" y="501.50" width="7.84" height="14.45" fill="#25559b"/>
<rect x="502.07" y="501.50" width="15.07" height="14.45" fill="#20509a"/>
<rect x="516.54" y="501.50" width="44.02" height="14.45" fill="#154590"/>
<rect x="559.97" y="501.50" width="152.58" height="14.45" fill="#1a4a93"/>
<rect x="711.94" y="501.50" width="58.50" height="14.45" fill="#0f3f8a"/>
<rect x="769.84" y="501.50" width="230.56" height="14.45" fill="#0d3c87"/>
<rect x="67.50" y="514.95" width="51.61" height="16.50" fill="#eeeeee"/>
<rect x="118.51" y="514.95" width="7.84" height="16.50" fill="#b8d8fb"/>
<rect x="125.75" y="514.95" width="29.55" height="16.50" fill="#4573b4"/>
<rect x="154.69" y="514.95" width="145.34" height="16.50" fill="#4070b0"/>
<rect x="299.43" y="514.95" width="29.55" height="16.50" fill="#3363a7"/>
<rect x="328.38" y="514.95" width="58.50" height="16.50" fill="#2f5fa3"/>
<rect x="386.28" y="514.95" width="65.73" height="16.50" fill="#2a5aa0"/>
<rect x="451.41" y="514.95" width="51.26" height="16.50" fill="#2f5fa3"/>
<rect x="502.07" y="514.95" width="58.50" height="16.50" fill="#2a5aa0"/>
<rect x="559.97" y="514.95" width="253.90" height="16.50" fill="#2f5fa3"/>
<rect x="813.26" y="514.95" width="187.14" height="16.50" fill="#25559b"/>
<rect x="67.50" y="530.45" width="51.61" height="16.30" fill="#eeeeee"/>
<rect x="118.51" y="530.45" width="15.07" height="16.30" fill="#8ab0e0"/>
<rect x="132.98" y="530.45" width="22.31" height="16.30" fill="#82aadc"/>
<rect x="154.69" y="530.45" width="232.18" height="16.30" fill="#7ba3d6"/>
<rect x="386.28" y="530.45" width="36.78" height="16.30" fill="#759ed4"/>
<rect x="422.46" y="530.45" width="22.31" height="16.30" fill="#5f8ac5"/>
<rect x="444.17" y="530.45" width="58.50" height="16.30" fill="#5a86c2"/>
<rect x="502.07" y="530.45" width="116.39" height="16.30" fill="#5884c0"/>
<rect x="617.86" y="530.45" width="152.58" height="16.30" fill="#5a88c4"/>
<rect x="769.84" y="530.45" width="15.07" height="16.30" fill="#5280bd"/>
<rect x="784.31" y="530.45" width="216.09" height="16.30" fill="#2a5aa0"/>
<rect x="67.50" y="545.75" width="22.66" height="16.35" fill="#eeeeee"/>
<rect x="89.56" y="545.75" width="29.55" height="16.35" fill="#dde7f3"/>
<rect x="118.51" y="545.75" width="7.84" height="16.35" fill="#a8ccf8"/>
<rect x="125.75" y="545.75" width="7.84" height="16.35" fill="#5080bd"/>
<rect x="132.98" y="545.75" width="80.21" height="16.35" fill="#3a69ac"/>
<rect x="212.59" y="545.75" width="116.39" height="16.35" fill="#3565a8"/>
<rect x="328.38" y="545.75" width="58.50" height="16.35" fill="#3a69ac"/>
<rect x="386.28" y="545.75" width="58.50" height="16.35" fill="#3565a8"/>
<rect x="444.17" y="545.75" width="405.87" height="16.35" fill="#3a68aa"/>
<rect x="849.45" y="545.75" width="150.95" height="16.35" fill="#3d6cae"/>
<rect x="67.50" y="561.10" width="58.85" height="14.55" fill="#eeeeee"/>
<rect x="125.75" y="561.10" width="29.55" height="14.55" fill="#a0c4f2"/>
<rect x="154.69" y="561.10" width="232.18" height="14.55" fill="#98bdec"/>
<rect x="386.28" y="561.10" width="58.50" height="14.55" fill="#85addf"/>
<rect x="444.17" y="561.10" width="58.50" height="14.55" fill="#82aadc"/>
<rect x="502.07" y="561.10" width="224.95" height="14.55" fill="#7099cf"/>
<rect x="726.42" y="561.10" width="273.98" height="14.55" fill="#4f7cba"/>
<rect x="67.50" y="574.65" width="51.61" height="16.40" fill="#eeeeee"/>
<rect x="118.51" y="574.65" width="7.84" height="16.40" fill="#b0d2fa"/>
<rect x="125.75" y="574.65" width="15.07" height="16.40" fill="#80a8da"/>
<rect x="140.22" y="574.65" width="72.97" height="16.40" fill="#6c95cd"/>
<rect x="212.59" y="574.65" width="174.29" height="16.40" fill="#6a93cc"/>
<rect x="386.28" y="574.65" width="123.63" height="16.40" fill="#6590c8"/>
<rect x="509.31" y="574.65" width="491.09" height="16.40" fill="#5280bd"/>
<rect x="67.50" y="590.05" width="22.66" height="15.30" fill="#eeeeee"/>
<rect x="89.56" y="590.05" width="29.55" height="15.30" fill="#dde7f3"/>
<rect x="118.51" y="590.05" width="36.79" height="15.30" fill="#7fa7da"/>
<rect x="154.69" y="590.05" width="232.18" height="15.30" fill="#759ed4"/>
<rect x="386.28" y="590.05" width="196.00" height="15.30" fill="#7099d0"/>
<rect x="581.68" y="590.05" width="418.72" height="15.30" fill="#5280bd"/>
</g>
<g>
<rect x="74.44" y="126.00" width="1.3" height="479.35" fill="#000" fill-opacity="0.13"/>
<rect x="81.67" y="126.00" width="1.3" height="479.35" fill="#000" fill-opacity="0.13"/>
<rect x="88.91" y="126.00" width="1.3" height="479.35" fill="#000" fill-opacity="0.13"/>
<rect x="103.38" y="126.00" width="1.3" height="479.35" fill="#000" fill-opacity="0.13"/>
<rect x="110.62" y="126.00" width="1.3" height="479.35" fill="#000" fill-opacity="0.13"/>
<rect x="117.86" y="126.00" width="1.3" height="479.35" fill="#000" fill-opacity="0.13"/>
<rect x="125.10" y="126.00" width="1.3" height="479.35" fill="#000" fill-opacity="0.13"/>
<rect x="132.33" y="126.00" width="1.3" height="479.35" fill="#000" fill-opacity="0.13"/>
<rect x="139.57" y="126.00" width="1.3" height="479.35" fill="#000" fill-opacity="0.13"/>
<rect x="146.81" y="126.00" width="1.3" height="479.35" fill="#000" fill-opacity="0.13"/>
<rect x="161.28" y="126.00" width="1.3" height="479.35" fill="#000" fill-opacity="0.13"/>
<rect x="168.52" y="126.00" width="1.3" height="479.35" fill="#000" fill-opacity="0.13"/>
<rect x="175.75" y="126.00" width="1.3" height="479.35" fill="#000" fill-opacity="0.13"/>
<rect x="182.99" y="126.00" width="1.3" height="479.35" fill="#000" fill-opacity="0.13"/>
<rect x="190.23" y="126.00" width="1.3" height="479.35" fill="#000" fill-opacity="0.13"/>
<rect x="197.47" y="126.00" width="1.3" height="479.35" fill="#000" fill-opacity="0.13"/>
<rect x="204.70" y="126.00" width="1.3" height="479.35" fill="#000" fill-opacity="0.13"/>
<rect x="219.18" y="126.00" width="1.3" height="479.35" fill="#000" fill-opacity="0.13"/>
<rect x="226.41" y="126.00" width="1.3" height="479.35" fill="#000" fill-opacity="0.13"/>
<rect x="233.65" y="126.00" width="1.3" height="479.35" fill="#000" fill-opacity="0.13"/>
<rect x="240.89" y="126.00" width="1.3" height="479.35" fill="#000" fill-opacity="0.13"/>
<rect x="248.12" y="126.00" width="1.3" height="479.35" fill="#000" fill-opacity="0.13"/>
<rect x="255.36" y="126.00" width="1.3" height="479.35" fill="#000" fill-opacity="0.13"/>
<rect x="262.60" y="126.00" width="1.3" height="479.35" fill="#000" fill-opacity="0.13"/>
<rect x="277.07" y="126.00" width="1.3" height="479.35" fill="#000" fill-opacity="0.13"/>
<rect x="284.31" y="126.00" width="1.3" height="479.35" fill="#000" fill-opacity="0.13"/>
<rect x="291.55" y="126.00" width="1.3" height="479.35" fill="#000" fill-opacity="0.13"/>
<rect x="298.78" y="126.00" width="1.3" height="479.35" fill="#000" fill-opacity="0.13"/>
<rect x="306.02" y="126.00" width="1.3" height="479.35" fill="#000" fill-opacity="0.13"/>
<rect x="313.26" y="126.00" width="1.3" height="479.35" fill="#000" fill-opacity="0.13"/>
<rect x="320.50" y="126.00" width="1.3" height="479.35" fill="#000" fill-opacity="0.13"/>
<rect x="334.97" y="126.00" width="1.3" height="479.35" fill="#000" fill-opacity="0.13"/>
<rect x="342.21" y="126.00" width="1.3" height="479.35" fill="#000" fill-opacity="0.13"/>
<rect x="349.44" y="126.00" width="1.3" height="479.35" fill="#000" fill-opacity="0.13"/>
<rect x="356.68" y="126.00" width="1.3" height="479.35" fill="#000" fill-opacity="0.13"/>
<rect x="363.92" y="126.00" width="1.3" height="479.35" fill="#000" fill-opacity="0.13"/>
<rect x="371.15" y="126.00" width="1.3" height="479.35" fill="#000" fill-opacity="0.13"/>
<rect x="378.39" y="126.00" width="1.3" height="479.35" fill="#000" fill-opacity="0.13"/>
<rect x="392.87" y="126.00" width="1.3" height="479.35" fill="#000" fill-opacity="0.13"/>
<rect x="400.10" y="126.00" width="1.3" height="479.35" fill="#000" fill-opacity="0.13"/>
<rect x="407.34" y="126.00" width="1.3" height="479.35" fill="#000" fill-opacity="0.13"/>
<rect x="414.58" y="126.00" width="1.3" height="479.35" fill="#000" fill-opacity="0.13"/>
<rect x="421.81" y="126.00" width="1.3" height="479.35" fill="#000" fill-opacity="0.13"/>
<rect x="429.05" y="126.00" width="1.3" height="479.35" fill="#000" fill-opacity="0.13"/>
<rect x="436.29" y="126.00" width="1.3" height="479.35" fill="#000" fill-opacity="0.13"/>
<rect x="450.76" y="126.00" width="1.3" height="479.35" fill="#000" fill-opacity="0.13"/>
<rect x="458.00" y="126.00" width="1.3" height="479.35" fill="#000" fill-opacity="0.13"/>
<rect x="465.24" y="126.00" width="1.3" height="479.35" fill="#000" fill-opacity="0.13"/>
<rect x="472.47" y="126.00" width="1.3" height="479.35" fill="#000" fill-opacity="0.13"/>
<rect x="479.71" y="126.00" width="1.3" height="479.35" fill="#000" fill-opacity="0.13"/>
<rect x="486.95" y="126.00" width="1.3" height="479.35" fill="#000" fill-opacity="0.13"/>
<rect x="494.18" y="126.00" width="1.3" height="479.35" fill="#000" fill-opacity="0.13"/>
<rect x="508.66" y="126.00" width="1.3" height="479.35" fill="#000" fill-opacity="0.13"/>
<rect x="515.89" y="126.00" width="1.3" height="479.35" fill="#000" fill-opacity="0.13"/>
<rect x="523.13" y="126.00" width="1.3" height="479.35" fill="#000" fill-opacity="0.13"/>
<rect x="530.37" y="126.00" width="1.3" height="479.35" fill="#000" fill-opacity="0.13"/>
<rect x="537.61" y="126.00" width="1.3" height="479.35" fill="#000" fill-opacity="0.13"/>
<rect x="544.84" y="126.00" width="1.3" height="479.35" fill="#000" fill-opacity="0.13"/>
<rect x="552.08" y="126.00" width="1.3" height="479.35" fill="#000" fill-opacity="0.13"/>
<rect x="566.55" y="126.00" width="1.3" height="479.35" fill="#000" fill-opacity="0.13"/>
<rect x="573.79" y="126.00" width="1.3" height="479.35" fill="#000" fill-opacity="0.13"/>
<rect x="581.03" y="126.00" width="1.3" height="479.35" fill="#000" fill-opacity="0.13"/>
<rect x="588.26" y="126.00" width="1.3" height="479.35" fill="#000" fill-opacity="0.13"/>
<rect x="595.50" y="126.00" width="1.3" height="479.35" fill="#000" fill-opacity="0.13"/>
<rect x="602.74" y="126.00" width="1.3" height="479.35" fill="#000" fill-opacity="0.13"/>
<rect x="609.98" y="126.00" width="1.3" height="479.35" fill="#000" fill-opacity="0.13"/>
<rect x="624.45" y="126.00" width="1.3" height="479.35" fill="#000" fill-opacity="0.13"/>
<rect x="631.69" y="126.00" width="1.3" height="479.35" fill="#000" fill-opacity="0.13"/>
<rect x="638.92" y="126.00" width="1.3" height="479.35" fill="#000" fill-opacity="0.13"/>
<rect x="646.16" y="126.00" width="1.3" height="479.35" fill="#000" fill-opacity="0.13"/>
<rect x="653.40" y="126.00" width="1.3" height="479.35" fill="#000" fill-opacity="0.13"/>
<rect x="660.63" y="126.00" width="1.3" height="479.35" fill="#000" fill-opacity="0.13"/>
<rect x="667.87" y="126.00" width="1.3" height="479.35" fill="#000" fill-opacity="0.13"/>
<rect x="682.35" y="126.00" width="1.3" height="479.35" fill="#000" fill-opacity="0.13"/>
<rect x="689.58" y="126.00" width="1.3" height="479.35" fill="#000" fill-opacity="0.13"/>
<rect x="696.82" y="126.00" width="1.3" height="479.35" fill="#000" fill-opacity="0.13"/>
<rect x="704.06" y="126.00" width="1.3" height="479.35" fill="#000" fill-opacity="0.13"/>
<rect x="711.29" y="126.00" width="1.3" height="479.35" fill="#000" fill-opacity="0.13"/>
<rect x="718.53" y="126.00" width="1.3" height="479.35" fill="#000" fill-opacity="0.13"/>
<rect x="725.77" y="126.00" width="1.3" height="479.35" fill="#000" fill-opacity="0.13"/>
<rect x="740.24" y="126.00" width="1.3" height="479.35" fill="#000" fill-opacity="0.13"/>
<rect x="747.48" y="126.00" width="1.3" height="479.35" fill="#000" fill-opacity="0.13"/>
<rect x="754.72" y="126.00" width="1.3" height="479.35" fill="#000" fill-opacity="0.13"/>
<rect x="761.95" y="126.00" width="1.3" height="479.35" fill="#000" fill-opacity="0.13"/>
<rect x="769.19" y="126.00" width="1.3" height="479.35" fill="#000" fill-opacity="0.13"/>
<rect x="776.43" y="126.00" width="1.3" height="479.35" fill="#000" fill-opacity="0.13"/>
<rect x="783.66" y="126.00" width="1.3" height="479.35" fill="#000" fill-opacity="0.13"/>
<rect x="798.14" y="126.00" width="1.3" height="479.35" fill="#000" fill-opacity="0.13"/>
<rect x="805.37" y="126.00" width="1.3" height="479.35" fill="#000" fill-opacity="0.13"/>
<rect x="812.61" y="126.00" width="1.3" height="479.35" fill="#000" fill-opacity="0.13"/>
<rect x="819.85" y="126.00" width="1.3" height="479.35" fill="#000" fill-opacity="0.13"/>
<rect x="827.09" y="126.00" width="1.3" height="479.35" fill="#000" fill-opacity="0.13"/>
<rect x="834.32" y="126.00" width="1.3" height="479.35" fill="#000" fill-opacity="0.13"/>
<rect x="841.56" y="126.00" width="1.3" height="479.35" fill="#000" fill-opacity="0.13"/>
<rect x="856.03" y="126.00" width="1.3" height="479.35" fill="#000" fill-opacity="0.13"/>
<rect x="863.27" y="126.00" width="1.3" height="479.35" fill="#000" fill-opacity="0.13"/>
<rect x="870.51" y="126.00" width="1.3" height="479.35" fill="#000" fill-opacity="0.13"/>
<rect x="877.74" y="126.00" width="1.3" height="479.35" fill="#000" fill-opacity="0.13"/>
<rect x="884.98" y="126.00" width="1.3" height="479.35" fill="#000" fill-opacity="0.13"/>
<rect x="892.22" y="126.00" width="1.3" height="479.35" fill="#000" fill-opacity="0.13"/>
<rect x="899.46" y="126.00" width="1.3" height="479.35" fill="#000" fill-opacity="0.13"/>
<rect x="913.93" y="126.00" width="1.3" height="479.35" fill="#000" fill-opacity="0.13"/>
<rect x="921.17" y="126.00" width="1.3" height="479.35" fill="#000" fill-opacity="0.13"/>
<rect x="928.40" y="126.00" width="1.3" height="479.35" fill="#000" fill-opacity="0.13"/>
<rect x="935.64" y="126.00" width="1.3" height="479.35" fill="#000" fill-opacity="0.13"/>
<rect x="942.88" y="126.00" width="1.3" height="479.35" fill="#000" fill-opacity="0.13"/>
<rect x="950.11" y="126.00" width="1.3" height="479.35" fill="#000" fill-opacity="0.13"/>
<rect x="957.35" y="126.00" width="1.3" height="479.35" fill="#000" fill-opacity="0.13"/>
<rect x="971.83" y="126.00" width="1.3" height="479.35" fill="#000" fill-opacity="0.13"/>
<rect x="979.06" y="126.00" width="1.3" height="479.35" fill="#000" fill-opacity="0.13"/>
<rect x="986.30" y="126.00" width="1.3" height="479.35" fill="#000" fill-opacity="0.13"/>
<rect x="993.54" y="126.00" width="1.3" height="479.35" fill="#000" fill-opacity="0.13"/>
<rect x="97.38" y="126.00" width="1.25" height="479.35" fill="#000" fill-opacity="0.44"/>
<rect x="154.07" y="126.00" width="1.25" height="479.35" fill="#000" fill-opacity="0.44"/>
<rect x="211.97" y="126.00" width="1.25" height="479.35" fill="#000" fill-opacity="0.44"/>
<rect x="269.87" y="126.00" width="1.25" height="479.35" fill="#000" fill-opacity="0.44"/>
<rect x="327.76" y="126.00" width="1.25" height="479.35" fill="#000" fill-opacity="0.44"/>
<rect x="385.66" y="126.00" width="1.25" height="479.35" fill="#000" fill-opacity="0.44"/>
<rect x="443.55" y="126.00" width="1.25" height="479.35" fill="#000" fill-opacity="0.44"/>
<rect x="501.45" y="126.00" width="1.25" height="479.35" fill="#000" fill-opacity="0.44"/>
<rect x="559.35" y="126.00" width="1.25" height="479.35" fill="#000" fill-opacity="0.44"/>
<rect x="617.24" y="126.00" width="1.25" height="479.35" fill="#000" fill-opacity="0.44"/>
<rect x="675.14" y="126.00" width="1.25" height="479.35" fill="#000" fill-opacity="0.44"/>
<rect x="733.03" y="126.00" width="1.25" height="479.35" fill="#000" fill-opacity="0.44"/>
<rect x="790.93" y="126.00" width="1.25" height="479.35" fill="#000" fill-opacity="0.44"/>
<rect x="848.83" y="126.00" width="1.25" height="479.35" fill="#000" fill-opacity="0.44"/>
<rect x="906.72" y="126.00" width="1.25" height="479.35" fill="#000" fill-opacity="0.44"/>
<rect x="964.62" y="126.00" width="1.25" height="479.35" fill="#000" fill-opacity="0.44"/>
</g>
<g fill="#000" fill-opacity="0.16">
<rect x="60.00" y="141.75" width="5.10" height="1"/>
<rect x="1001.40" y="141.75" width="5.60" height="1"/>
<rect x="60.00" y="157.10" width="5.10" height="1"/>
<rect x="1001.40" y="157.10" width="5.60" height="1"/>
<rect x="60.00" y="170.80" width="5.10" height="1"/>
<rect x="1001.40" y="170.80" width="5.60" height="1"/>
<rect x="60.00" y="186.25" width="5.10" height="1"/>
<rect x="1001.40" y="186.25" width="5.60" height="1"/>
<rect x="60.00" y="201.60" width="5.10" height="1"/>
<rect x="1001.40" y="201.60" width="5.60" height="1"/>
<rect x="60.00" y="216.95" width="5.10" height="1"/>
<rect x="1001.40" y="216.95" width="5.60" height="1"/>
<rect x="60.00" y="230.40" width="5.10" height="1"/>
<rect x="1001.40" y="230.40" width="5.60" height="1"/>
<rect x="60.00" y="245.80" width="5.10" height="1"/>
<rect x="1001.40" y="245.80" width="5.60" height="1"/>
<rect x="60.00" y="261.20" width="5.10" height="1"/>
<rect x="1001.40" y="261.20" width="5.60" height="1"/>
<rect x="60.00" y="276.50" width="5.10" height="1"/>
<rect x="1001.40" y="276.50" width="5.60" height="1"/>
<rect x="60.00" y="292.00" width="5.10" height="1"/>
<rect x="1001.40" y="292.00" width="5.60" height="1"/>
<rect x="60.00" y="305.50" width="5.10" height="1"/>
<rect x="1001.40" y="305.50" width="5.60" height="1"/>
<rect x="60.00" y="320.80" width="5.10" height="1"/>
<rect x="1001.40" y="320.80" width="5.60" height="1"/>
<rect x="60.00" y="336.10" width="5.10" height="1"/>
<rect x="1001.40" y="336.10" width="5.60" height="1"/>
<rect x="60.00" y="351.60" width="5.10" height="1"/>
<rect x="1001.40" y="351.60" width="5.60" height="1"/>
<rect x="60.00" y="366.90" width="5.10" height="1"/>
<rect x="1001.40" y="366.90" width="5.60" height="1"/>
<rect x="60.00" y="380.70" width="5.10" height="1"/>
<rect x="1001.40" y="380.70" width="5.60" height="1"/>
<rect x="60.00" y="395.95" width="5.10" height="1"/>
<rect x="1001.40" y="395.95" width="5.60" height="1"/>
<rect x="60.00" y="411.20" width="5.10" height="1"/>
<rect x="1001.40" y="411.20" width="5.60" height="1"/>
<rect x="60.00" y="426.50" width="5.10" height="1"/>
<rect x="1001.40" y="426.50" width="5.60" height="1"/>
<rect x="60.00" y="440.30" width="5.10" height="1"/>
<rect x="1001.40" y="440.30" width="5.60" height="1"/>
<rect x="60.00" y="455.60" width="5.10" height="1"/>
<rect x="1001.40" y="455.60" width="5.60" height="1"/>
<rect x="60.00" y="470.90" width="5.10" height="1"/>
<rect x="1001.40" y="470.90" width="5.60" height="1"/>
<rect x="60.00" y="486.35" width="5.10" height="1"/>
<rect x="1001.40" y="486.35" width="5.60" height="1"/>
<rect x="60.00" y="501.75" width="5.10" height="1"/>
<rect x="1001.40" y="501.75" width="5.60" height="1"/>
<rect x="60.00" y="515.20" width="5.10" height="1"/>
<rect x="1001.40" y="515.20" width="5.60" height="1"/>
<rect x="60.00" y="530.70" width="5.10" height="1"/>
<rect x="1001.40" y="530.70" width="5.60" height="1"/>
<rect x="60.00" y="546.00" width="5.10" height="1"/>
<rect x="1001.40" y="546.00" width="5.60" height="1"/>
<rect x="60.00" y="561.35" width="5.10" height="1"/>
<rect x="1001.40" y="561.35" width="5.60" height="1"/>
<rect x="60.00" y="574.90" width="5.10" height="1"/>
<rect x="1001.40" y="574.90" width="5.60" height="1"/>
<rect x="60.00" y="590.30" width="5.10" height="1"/>
<rect x="1001.40" y="590.30" width="5.60" height="1"/>
<rect x="60.00" y="605.60" width="5.10" height="1"/>
<rect x="1001.40" y="605.60" width="5.60" height="1"/>
</g>
<rect x="59.50" y="126.00" width="1" height="479.35" fill="#000" fill-opacity="0.10"/>
<rect x="65.1" y="125.50" width="2.7" height="479.85" fill="#4d4d4d"/>
<rect x="67.8" y="126.00" width="1.6" height="479.35" fill="#000" fill-opacity="0.13"/>
<rect x="69.4" y="126.00" width="0.00" height="0.00" fill="#eeeeee"/>
<rect x="999.50" y="125.50" width="1.9" height="479.85" fill="#4d4d4d"/>
<rect x="60.00" y="124.6" width="947.00" height="1.6" fill="#c3d4ef"/>
<rect x="60.00" y="605.35" width="941.40" height="1.2" fill="#000" fill-opacity="0.12"/>
<g font-family="'Liberation Sans', Arial, sans-serif">
<text x="9" y="30.6" font-size="18.75" fill="#222">GFS Ensemble Forecast (GEFS) for Mezőtúr (05/28/2025, 12z)</text>
<text x="9" y="58.6" font-size="18.75" fill="#222">Accumulated precipitation</text>
<text x="129.1" y="116" font-size="12" fill="#333" text-anchor="middle">29.05.</text>
<text x="186.9" y="116" font-size="12" fill="#333" text-anchor="middle">30.05.</text>
<text x="244.8" y="116" font-size="12" fill="#333" text-anchor="middle">31.05.</text>
<text x="302.6" y="116" font-size="12" fill="#333" text-anchor="middle">1.06.</text>
<text x="360.5" y="116" font-size="12" fill="#333" text-anchor="middle">2.06.</text>
<text x="418.4" y="116" font-size="12" fill="#333" text-anchor="middle">3.06.</text>
<text x="476.2" y="116" font-size="12" fill="#333" text-anchor="middle">4.06.</text>
<text x="534.0" y="116" font-size="12" fill="#333" text-anchor="middle">5.06.</text>
<text x="591.9" y="116" font-size="12" fill="#333" text-anchor="middle">6.06.</text>
<text x="649.8" y="116" font-size="12" fill="#333" text-anchor="middle">7.06.</text>
<text x="707.6" y="116" font-size="12" fill="#333" text-anchor="middle">8.06.</text>
<text x="765.5" y="116" font-size="12" fill="#333" text-anchor="middle">9.06.</text>
<text x="823.3" y="116" font-size="12" fill="#333" text-anchor="middle">10.06.</text>
<text x="881.2" y="116" font-size="12" fill="#333" text-anchor="middle">11.06.</text>
<text x="939.0" y="116" font-size="12" fill="#333" text-anchor="middle">12.06.</text>
<text x="990.6" y="116" font-size="12" fill="#333" text-anchor="middle">13.06.</text>
<text x="33.9" y="141.2" font-size="13.65" fill="#222" text-anchor="end">Mean</text>
<text x="11.15" y="170.2" font-size="13.65" fill="#222">#23</text>
<text x="11.15" y="185.7" font-size="13.65" fill="#222">#11</text>
<text x="11.15" y="201.0" font-size="13.65" fill="#222">#24</text>
<text x="11.15" y="216.4" font-size="13.65" fill="#222">#03</text>
<text x="11.15" y="229.8" font-size="13.65" fill="#222">#09</text>
<text x="11.15" y="245.2" font-size="13.65" fill="#222">#21</text>
<text x="11.15" y="260.6" font-size="13.65" fill="#222">#18</text>
<text x="11.15" y="275.9" font-size="13.65" fill="#222">#28</text>
<text x="11.15" y="291.4" font-size="13.65" fill="#222">#15</text>
<text x="11.15" y="304.9" font-size="13.65" fill="#222">#19</text>
<text x="11.15" y="320.2" font-size="13.65" fill="#222">#16</text>
<text x="11.15" y="335.6" font-size="13.65" fill="#222">#08</text>
<text x="11.15" y="351.1" font-size="13.65" fill="#222">#12</text>
<text x="11.15" y="366.3" font-size="13.65" fill="#222">#04</text>
<text x="11.15" y="380.1" font-size="13.65" fill="#222">#25</text>
<text x="11.15" y="395.4" font-size="13.65" fill="#222">#10</text>
<text x="11.15" y="410.6" font-size="13.65" fill="#222">#02</text>
<text x="11.15" y="425.9" font-size="13.65" fill="#222">#05</text>
<text x="11.15" y="439.8" font-size="13.65" fill="#222">#26</text>
<text x="11.15" y="455.1" font-size="13.65" fill="#222">#07</text>
<text x="11.15" y="470.3" font-size="13.65" fill="#222">#14</text>
<text x="11.15" y="485.8" font-size="13.65" fill="#222">#30</text>
<text x="11.15" y="501.2" font-size="13.65" fill="#222">#01</text>
<text x="11.15" y="514.7" font-size="13.65" fill="#222">#17</text>
<text x="11.15" y="530.2" font-size="13.65" fill="#222">#27</text>
<text x="11.15" y="545.5" font-size="13.65" fill="#222">#20</text>
<text x="11.15" y="560.8" font-size="13.65" fill="#222">#13</text>
<text x="11.15" y="574.4" font-size="13.65" fill="#222">#29</text>
<text x="11.15" y="589.8" font-size="13.65" fill="#222">#22</text>
<text x="11.15" y="605.1" font-size="13.65" fill="#222">#06</text>
<text x="254" y="654.3" font-size="18.75" font-weight="bold" fill="#111">Accumulated precipitation (mm)</text>
<text x="284.6" y="721.3" font-size="15.4" fill="#737373" text-anchor="middle">0.5</text>
<text x="338.7" y="721.3" font-size="15.4" fill="#737373" text-anchor="middle">2</text>
<text x="394.5" y="721.3" font-size="15.4" fill="#737373" text-anchor="middle">5</text>
<text x="444.3" y="721.3" font-size="15.4" fill="#737373" text-anchor="middle">10</text>
<text x="500.7" y="721.3" font-size="15.4" fill="#737373" text-anchor="middle">20</text>
<text x="576.5" y="721.3" font-size="15.4" fill="#737373" text-anchor="middle">50</text>
<text x="633.8" y="721.3" font-size="15.4" fill="#737373" text-anchor="middle">100</text>
<text x="690.5" y="721.3" font-size="15.4" fill="#737373" text-anchor="middle">200</text>
<text x="737.0" y="721.3" font-size="15.4" fill="#737373" text-anchor="middle">350</text>
<text x="1006.7" y="755.2" font-size="13.65" fill="#555" text-anchor="end">meteologix.com</text>
</g>
<defs>
<linearGradient id="lg0" x1="0" x2="1" y1="0" y2="0"><stop offset="0" stop-color="#eeeeee"/><stop offset="1" stop-color="#b5d5fb"/></linearGradient>
<linearGradient id="lg1" x1="0" x2="1" y1="0" y2="0"><stop offset="0" stop-color="#b0d2fa"/><stop offset="1" stop-color="#82a8d8"/></linearGradient>
<linearGradient id="lg2" x1="0" x2="1" y1="0" y2="0"><stop offset="0" stop-color="#7fa6d8"/><stop offset="1" stop-color="#5484c0"/></linearGradient>
<linearGradient id="lg3" x1="0" x2="1" y1="0" y2="0"><stop offset="0" stop-color="#5080bd"/><stop offset="1" stop-color="#2a5aa0"/></linearGradient>
<linearGradient id="lg4" x1="0" x2="1" y1="0" y2="0"><stop offset="0" stop-color="#25559b"/><stop offset="0.7" stop-color="#03307a"/><stop offset="0.85" stop-color="#0a5060"/><stop offset="1" stop-color="#0f7a38"/></linearGradient>
<linearGradient id="lg5" x1="0" x2="1" y1="0" y2="0"><stop offset="0" stop-color="#1e961f"/><stop offset="0.2" stop-color="#7aba24"/><stop offset="0.4" stop-color="#fff030"/><stop offset="0.65" stop-color="#f59a10"/><stop offset="1" stop-color="#e85000"/></linearGradient>
<linearGradient id="lg6" x1="0" x2="1" y1="0" y2="0"><stop offset="0" stop-color="#e04402"/><stop offset="0.7" stop-color="#c00800"/><stop offset="1" stop-color="#a00030"/></linearGradient>
<linearGradient id="lg7" x1="0" x2="1" y1="0" y2="0"><stop offset="0" stop-color="#800058"/><stop offset="0.3" stop-color="#600080"/><stop offset="1" stop-color="#9858b4"/></linearGradient>
<linearGradient id="lg8" x1="0" x2="1" y1="0" y2="0"><stop offset="0" stop-color="#b888d0"/><stop offset="0.9" stop-color="#f3e4fb"/><stop offset="1" stop-color="#efe0f8"/></linearGradient>
<linearGradient id="lg9" x1="0" x2="1" y1="0" y2="0"><stop offset="0" stop-color="#d8d0dc"/><stop offset="1" stop-color="#989898"/></linearGradient>
</defs>
<rect x="254.00" y="670.00" width="29.65" height="20.80" fill="url(#lg0)"/>
<rect x="284.95" y="670.00" width="53.20" height="20.80" fill="url(#lg1)"/>
<rect x="339.45" y="670.00" width="53.10" height="20.80" fill="url(#lg2)"/>
<rect x="393.85" y="670.00" width="48.20" height="20.80" fill="url(#lg3)"/>
<rect x="443.35" y="670.00" width="56.60" height="20.80" fill="url(#lg4)"/>
<rect x="501.25" y="670.00" width="73.90" height="20.80" fill="url(#lg5)"/>
<rect x="576.45" y="670.00" width="55.10" height="20.80" fill="url(#lg6)"/>
<rect x="632.85" y="670.00" width="57.00" height="20.80" fill="url(#lg7)"/>
<rect x="691.15" y="670.00" width="44.60" height="20.80" fill="url(#lg8)"/>
<rect x="737.05" y="670.00" width="29.05" height="20.80" fill="url(#lg9)"/>
</svg>
</body></html>
